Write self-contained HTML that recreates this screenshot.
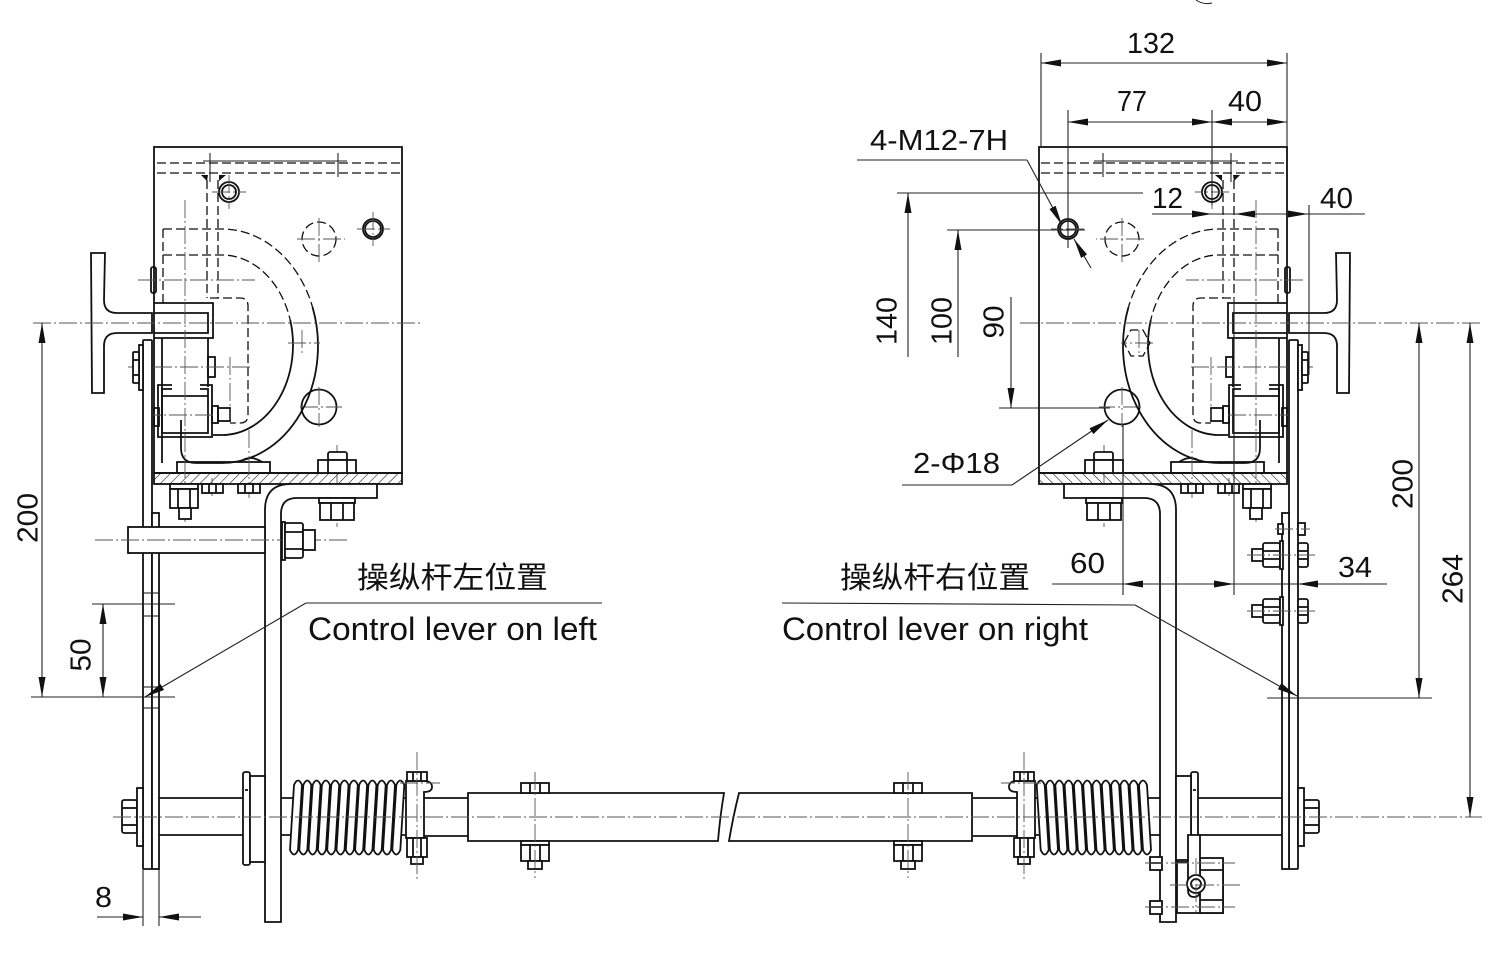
<!DOCTYPE html>
<html><head><meta charset="utf-8"><style>
html,body{margin:0;padding:0;background:#fff;}
svg{display:block;}
text{font-family:"Liberation Sans","Noto Sans CJK SC",sans-serif;fill:#111;}
.o{fill:none;stroke:#111;stroke-width:1.8;}
.w{fill:#fff;stroke:#111;stroke-width:1.8;}
.t{fill:none;stroke:#222;stroke-width:1.1;}
.c{fill:none;stroke:#555;stroke-width:0.9;stroke-dasharray:18 3 2 3;}
.h{fill:none;stroke:#111;stroke-width:1.3;stroke-dasharray:9 4;}
.d{fill:none;stroke:#222;stroke-width:1.1;}
</style></head><body>
<svg width="1500" height="976" viewBox="0 0 1500 976" xmlns="http://www.w3.org/2000/svg">
<defs>
<pattern id="hp" width="7" height="7" patternUnits="userSpaceOnUse" patternTransform="rotate(45)"><line x1="0" y1="0" x2="0" y2="7" stroke="#111" stroke-width="1.1"/></pattern>
<marker id="ar" viewBox="0 -4 20 8" refX="20" refY="0" markerWidth="20" markerHeight="8" markerUnits="userSpaceOnUse" orient="auto-start-reverse"><path d="M0,-3.5 L20,0 L0,3.5 Z" fill="#111"/></marker>
<g id="L">
 <!-- box -->
 <rect class="o" x="154" y="147" width="248" height="326"/>
 <rect x="154" y="473" width="248" height="11" fill="url(#hp)" stroke="#111" stroke-width="1.8"/>
 <line class="h" x1="157" y1="163" x2="400" y2="163"/>
 <line class="h" x1="157" y1="173" x2="400" y2="173"/>
 <line class="t" x1="203" y1="161" x2="347" y2="161"/>
 <line class="t" x1="210" y1="153" x2="210" y2="182"/>
 <line class="t" x1="338" y1="153" x2="338" y2="177"/>
 <path d="M201,175 L208,175 L207,181 Z M219,175 L226,175 L219,181 Z" fill="#111"/>
 <line class="h" x1="207" y1="180" x2="207" y2="298"/>
 <line class="h" x1="218" y1="180" x2="218" y2="298"/>
 <!-- holes -->
 <circle class="o" cx="229" cy="192" r="10"/><circle class="o" cx="229" cy="192" r="7" stroke-width="1.2"/>
 <line class="c" x1="212" y1="192" x2="246" y2="192"/><line class="c" x1="229" y1="175" x2="229" y2="209"/>
 <circle class="o" cx="373" cy="229" r="10"/><circle class="o" cx="373" cy="229" r="8" stroke-width="1.2"/>
 <line class="c" x1="357" y1="229" x2="390" y2="229"/><line class="c" x1="373" y1="212" x2="373" y2="246"/>
 <circle class="h" cx="319" cy="239" r="17"/>
 <line class="c" x1="297" y1="239" x2="345" y2="239"/><line class="c" x1="319" y1="218" x2="319" y2="262"/>
 <circle class="o" cx="319" cy="407" r="17.5"/>
 <line class="c" x1="300" y1="407" x2="342" y2="407"/><line class="c" x1="319" y1="387" x2="319" y2="427"/>
 <!-- hook -->
 <path class="h" d="M163,229 H222 A96,117 0 0 1 312.5,307"/>
 <path class="o" d="M312.5,307 A96,117 0 0 1 222,463 H196 Q181,463 181,448 V420"/>
 <path class="h" d="M163,255 H222 A71,90 0 0 1 290.2,320"/>
 <path class="o" d="M290.2,320 A71,90 0 0 1 222,435 H213"/>
 <line class="h" x1="163" y1="229" x2="163" y2="303"/>
 <path class="h" d="M210,298 H240 Q248,298 248,306 V415 Q248,423 240,423 H230"/>
 <!-- handle -->
 <path class="w" d="M91,253 H105 L104,300 Q104,313 117,313 H152 V333 H117 Q104,333 104,346 L104,393 H92 Z"/>
 <path class="o" d="M154,303 H213 V338 H154"/>
 <path class="o" d="M154,313 H208 V333 H154"/>
 <rect class="o" x="151" y="267" width="5" height="26" rx="2"/>
 <!-- block & channel -->
 <line class="o" x1="162" y1="338" x2="162" y2="463"/>
 <line class="o" x1="208" y1="338" x2="208" y2="387"/>
 <rect class="o" x="208" y="357" width="7" height="20"/>
 <path class="o" d="M172,385 H158 V437 H212 V385 H200"/>
 <path class="o" d="M172,389 H162 V433 H208 V389 H200" stroke-width="1.2"/>
 <line class="o" x1="162" y1="396" x2="208" y2="396" stroke-width="1.2"/>
 <rect class="o" x="154" y="408" width="5" height="18"/>
 <rect class="o" x="212" y="406" width="6" height="17"/>
 <rect class="o" x="218" y="408" width="12" height="13"/>
 <rect class="o" x="177" y="462" width="93" height="11"/>
 <path class="o" d="M240,462 Q250,454 262,462" stroke-width="1.2"/>
 <!-- centerlines inside -->
 <line class="c" x1="185" y1="200" x2="185" y2="522"/>
 <line class="c" x1="337" y1="445" x2="337" y2="527"/>
 <line class="c" x1="230" y1="357" x2="230" y2="420"/>
 <line class="c" x1="212" y1="478" x2="212" y2="498"/>
 <line class="c" x1="249" y1="430" x2="249" y2="498"/>
 <line class="c" x1="138" y1="280" x2="255" y2="280"/>
 <line class="c" x1="288" y1="343" x2="320" y2="343"/>
 <line class="c" x1="302" y1="330" x2="302" y2="356"/>
 <line class="c" x1="128" y1="367" x2="250" y2="367"/>
 <line class="c" x1="143" y1="415" x2="213" y2="415"/>
 <!-- nuts at plate -->
 <rect class="w" x="328" y="452" width="19" height="8" rx="2"/>
 <rect class="w" x="318" y="460" width="38" height="13"/>
 <line class="o" x1="328" y1="460" x2="328" y2="473"/><line class="o" x1="347" y1="460" x2="347" y2="473"/>
 <rect class="w" x="170" y="484" width="28" height="5"/>
 <rect class="w" x="170" y="489" width="28" height="19"/>
 <line class="o" x1="178" y1="489" x2="178" y2="508"/><line class="o" x1="190" y1="489" x2="190" y2="508"/>
 <rect class="w" x="179" y="508" width="12" height="11"/>
 <rect class="w" x="202" y="484" width="21" height="9"/>
 <line class="o" x1="209" y1="484" x2="209" y2="493"/><line class="o" x1="216" y1="484" x2="216" y2="493"/>
 <rect class="w" x="238" y="484" width="22" height="9"/>
 <line class="o" x1="245" y1="484" x2="245" y2="493"/><line class="o" x1="253" y1="484" x2="253" y2="493"/>
 <!-- plates -->
 <rect class="w" x="143" y="340" width="9" height="529" rx="1"/>
 <rect class="w" x="152" y="513" width="7" height="356"/>
 <rect class="w" x="139" y="345" width="4" height="45"/>
 <rect class="w" x="133" y="352" width="6" height="31" rx="1"/>
 <line class="o" x1="133" y1="360" x2="139" y2="360"/><line class="o" x1="133" y1="375" x2="139" y2="375"/>
 <!-- L bracket -->
 <path class="w" d="M265,922 V510 Q265,484 291,484 H377 V498 H297 Q281,498 281,514 V922 Z"/>
 <rect class="w" x="319" y="498" width="36" height="5"/>
 <rect class="w" x="320" y="503" width="34" height="17"/>
 <line class="o" x1="331" y1="503" x2="331" y2="520"/><line class="o" x1="343" y1="503" x2="343" y2="520"/>
 <!-- shaft -->
 <rect class="w" x="122" y="800" width="15" height="33" rx="2"/>
 <line class="o" x1="122" y1="808" x2="137" y2="808"/><line class="o" x1="122" y1="825" x2="137" y2="825"/>
 <rect class="w" x="137" y="788" width="6" height="58"/>
 <line class="o" x1="159" y1="798" x2="243" y2="798"/><line class="o" x1="159" y1="835" x2="243" y2="835"/>
 <rect class="w" x="243" y="772" width="7" height="93" rx="2"/>
 <rect class="w" x="250" y="776" width="15" height="86"/>
 <line class="o" x1="245" y1="790" x2="248" y2="790" stroke-width="1"/>
 <line class="o" x1="281" y1="798" x2="406" y2="798"/><line class="o" x1="281" y1="835" x2="406" y2="835"/>
 <!-- spring -->
 <g class="w">
 <path d="M294,785 Q298,776 302,785 L298,850 Q294,859 290,850 Z"/>
 <path d="M303.3,785 Q307.3,776 311.3,785 L307.3,850 Q303.3,859 299.3,850 Z"/>
 <path d="M312.6,785 Q316.6,776 320.6,785 L316.6,850 Q312.6,859 308.6,850 Z"/>
 <path d="M321.9,785 Q325.9,776 329.9,785 L325.9,850 Q321.9,859 317.9,850 Z"/>
 <path d="M331.2,785 Q335.2,776 339.2,785 L335.2,850 Q331.2,859 327.2,850 Z"/>
 <path d="M340.5,785 Q344.5,776 348.5,785 L344.5,850 Q340.5,859 336.5,850 Z"/>
 <path d="M349.8,785 Q353.8,776 357.8,785 L353.8,850 Q349.8,859 345.8,850 Z"/>
 <path d="M359.1,785 Q363.1,776 367.1,785 L363.1,850 Q359.1,859 355.1,850 Z"/>
 <path d="M368.4,785 Q372.4,776 376.4,785 L372.4,850 Q368.4,859 364.4,850 Z"/>
 <path d="M377.7,785 Q381.7,776 385.7,785 L381.7,850 Q377.7,859 373.7,850 Z"/>
 <path d="M387,785 Q391,776 395,785 L391,850 Q387,859 383,850 Z"/>
 <path d="M396.3,785 Q400.3,776 404.3,785 L400.3,850 Q396.3,859 392.3,850 Z"/>
 </g>
 <!-- collar -->
 <path class="w" d="M406,781 H424 Q432,781 432,787 Q432,792 424,792 V838 H406 Z"/>
 <rect class="w" x="407" y="772" width="20" height="9"/>
 <line class="o" x1="413" y1="772" x2="413" y2="781"/><line class="o" x1="421" y1="772" x2="421" y2="781"/>
 <rect class="w" x="407" y="838" width="20" height="19"/>
 <line class="o" x1="413" y1="838" x2="413" y2="857"/><line class="o" x1="421" y1="838" x2="421" y2="857"/>
 <rect class="w" x="411" y="857" width="12" height="7"/>
 <line class="c" x1="417" y1="752" x2="417" y2="882"/>
 <line class="c" x1="400" y1="783" x2="440" y2="783"/>
 <line class="o" x1="424" y1="798" x2="468" y2="798"/><line class="o" x1="424" y1="836" x2="468" y2="836"/>
</g>
</defs>

<rect width="1500" height="976" fill="#fff"/>

<!-- left assembly and mirrored right assembly -->
<use href="#L"/>
<use href="#L" transform="matrix(-1 0 0 1 1441 0)"/>

<!-- left-only: bar and side bolt -->
<rect class="w" x="128" y="527" width="137" height="26"/>
<line class="c" x1="95" y1="540" x2="348" y2="540"/>
<rect class="w" x="282" y="522" width="3" height="38"/>
<rect class="w" x="285" y="523" width="18" height="35" rx="2"/>
<line class="o" x1="285" y1="532" x2="303" y2="532"/><line class="o" x1="285" y1="549" x2="303" y2="549"/>
<rect class="w" x="303" y="530" width="12" height="20"/>
<g class="t">
<line x1="143" y1="593" x2="159" y2="593"/><line x1="143" y1="616" x2="159" y2="616"/>
<line x1="143" y1="687" x2="159" y2="687"/><line x1="143" y1="708" x2="159" y2="708"/>
</g>

<!-- right-only: plate bolts -->
<rect class="w" x="1252" y="549" width="11" height="12"/>
<rect class="w" x="1263" y="543" width="17" height="24" rx="2"/>
<line class="o" x1="1263" y1="551" x2="1280" y2="551"/><line class="o" x1="1263" y1="559" x2="1280" y2="559"/>
<rect class="w" x="1280" y="541" width="3" height="28"/>
<rect class="w" x="1298" y="543" width="10" height="24" rx="2"/>
<line class="o" x1="1298" y1="551" x2="1308" y2="551"/><line class="o" x1="1298" y1="559" x2="1308" y2="559"/>
<rect class="w" x="1252" y="605" width="11" height="12"/>
<rect class="w" x="1263" y="599" width="17" height="24" rx="2"/>
<line class="o" x1="1263" y1="607" x2="1280" y2="607"/><line class="o" x1="1263" y1="615" x2="1280" y2="615"/>
<rect class="w" x="1280" y="597" width="3" height="28"/>
<rect class="w" x="1298" y="599" width="10" height="24" rx="2"/>
<line class="o" x1="1298" y1="607" x2="1308" y2="607"/><line class="o" x1="1298" y1="615" x2="1308" y2="615"/>
<rect class="w" x="1278" y="524" width="5" height="10"/>
<rect class="w" x="1298" y="523" width="7" height="12"/>
<line class="c" x1="1275" y1="529" x2="1310" y2="529"/>
<line class="c" x1="1247" y1="555" x2="1315" y2="555"/>
<line class="c" x1="1247" y1="611" x2="1315" y2="611"/>
<!-- right-only: hidden hex -->
<path class="h" d="M1124,343 L1131,330 H1143 L1150,343 L1143,356 H1131 Z"/>
<!-- right-only: roller bracket -->
<rect class="o" x="1177" y="860" width="46" height="53"/>
<rect class="w" x="1200" y="858" width="23" height="55"/>
<line class="o" x1="1200" y1="870" x2="1223" y2="870" stroke-width="1.2"/>
<line class="o" x1="1200" y1="900" x2="1223" y2="900" stroke-width="1.2"/>
<path class="w" d="M1188,835 H1200 V890 Q1200,897 1194,897 Q1188,897 1188,890 Z"/>
<circle class="w" cx="1196" cy="884" r="9"/>
<circle class="o" cx="1196" cy="884" r="5" stroke-width="1.2"/>
<rect class="w" x="1150" y="857" width="12" height="13"/>
<line class="o" x1="1150" y1="863" x2="1162" y2="863" stroke-width="1"/>
<rect class="w" x="1150" y="901" width="12" height="13"/>
<line class="o" x1="1150" y1="907" x2="1162" y2="907" stroke-width="1"/>
<line class="c" x1="1145" y1="863" x2="1235" y2="863"/>
<line class="c" x1="1170" y1="885" x2="1240" y2="885"/>
<line class="c" x1="1145" y1="907" x2="1235" y2="907"/>
<line class="c" x1="1196" y1="858" x2="1196" y2="912"/>

<!-- tube with break -->
<path class="w" d="M468,793 H724 Q720,817 718,841 H468 Z"/>
<path class="w" d="M739,793 H972 V841 H729 Q733,817 739,793 Z"/>
<!-- tube bolts -->
<g>
<rect class="w" x="521" y="783" width="28" height="10"/>
<line class="o" x1="530" y1="783" x2="530" y2="793"/><line class="o" x1="540" y1="783" x2="540" y2="793"/>
<rect class="w" x="521" y="841" width="28" height="4"/>
<rect class="w" x="521" y="845" width="28" height="16"/>
<line class="o" x1="530" y1="845" x2="530" y2="861"/><line class="o" x1="540" y1="845" x2="540" y2="861"/>
<rect class="w" x="528" y="861" width="14" height="8"/>
<line class="c" x1="535" y1="772" x2="535" y2="878"/>
<rect class="w" x="894" y="783" width="28" height="10"/>
<line class="o" x1="903" y1="783" x2="903" y2="793"/><line class="o" x1="913" y1="783" x2="913" y2="793"/>
<rect class="w" x="894" y="841" width="28" height="4"/>
<rect class="w" x="894" y="845" width="28" height="16"/>
<line class="o" x1="903" y1="845" x2="903" y2="861"/><line class="o" x1="913" y1="845" x2="913" y2="861"/>
<rect class="w" x="901" y="861" width="14" height="8"/>
<line class="c" x1="908" y1="772" x2="908" y2="878"/>
</g>

<!-- main centerlines -->
<line class="c" x1="33" y1="323" x2="420" y2="323"/>
<line class="c" x1="1020" y1="323" x2="1482" y2="323"/>
<line class="c" x1="113" y1="817" x2="1482" y2="817"/>

<!-- LEFT dimensions -->
<line class="d" x1="42" y1="323" x2="42" y2="697" marker-start="url(#ar)" marker-end="url(#ar)"/>
<line class="t" x1="31" y1="697" x2="175" y2="697"/>
<line class="d" x1="103" y1="604" x2="103" y2="697" marker-start="url(#ar)" marker-end="url(#ar)"/>
<line class="t" x1="92" y1="604" x2="175" y2="604"/>
<text transform="translate(27,518) rotate(-90)" text-anchor="middle" dy="0.36em" font-size="29" textLength="50" lengthAdjust="spacingAndGlyphs">200</text>
<text transform="translate(80,655) rotate(-90)" text-anchor="middle" dy="0.36em" font-size="29" textLength="33" lengthAdjust="spacingAndGlyphs">50</text>
<line class="t" x1="143" y1="869" x2="143" y2="926"/>
<line class="t" x1="159" y1="869" x2="159" y2="926"/>
<line class="d" x1="97" y1="917" x2="143" y2="917" marker-end="url(#ar)"/>
<line class="d" x1="201" y1="917" x2="159" y2="917" marker-end="url(#ar)"/>
<text x="95" y="907" font-size="29" textLength="17" lengthAdjust="spacingAndGlyphs">8</text>
<!-- left leader -->
<polyline class="d" points="602,603 306,603"/>
<line class="d" x1="306" y1="603" x2="145" y2="697" marker-end="url(#ar)"/>
<text x="357" y="588" font-size="30" textLength="191" lengthAdjust="spacingAndGlyphs">操纵杆左位置</text>
<text x="308" y="640" font-size="32" textLength="289" lengthAdjust="spacingAndGlyphs">Control lever on left</text>

<!-- RIGHT dimensions -->
<line class="t" x1="1041" y1="53" x2="1041" y2="147"/>
<line class="t" x1="1287" y1="53" x2="1287" y2="147"/>
<line class="d" x1="1041" y1="63" x2="1287" y2="63" marker-start="url(#ar)" marker-end="url(#ar)"/>
<text x="1127" y="53" font-size="29" textLength="48" lengthAdjust="spacingAndGlyphs">132</text>
<line class="t" x1="1068" y1="110" x2="1068" y2="248"/>
<line class="t" x1="1212" y1="110" x2="1212" y2="205"/>
<line class="d" x1="1068" y1="122" x2="1212" y2="122" marker-start="url(#ar)" marker-end="url(#ar)"/>
<line class="d" x1="1212" y1="122" x2="1287" y2="122" marker-start="url(#ar)" marker-end="url(#ar)"/>
<text x="1117" y="111" font-size="29" textLength="30" lengthAdjust="spacingAndGlyphs">77</text>
<text x="1228" y="111" font-size="29" textLength="34" lengthAdjust="spacingAndGlyphs">40</text>
<!-- 4-M12-7H -->
<line class="d" x1="857" y1="160" x2="1027" y2="160"/>
<line class="d" x1="1027" y1="160" x2="1062" y2="225" marker-end="url(#ar)"/>
<line class="d" x1="1091" y1="268" x2="1074" y2="239" marker-end="url(#ar)"/>
<text x="870" y="150" font-size="29" textLength="138" lengthAdjust="spacingAndGlyphs">4-M12-7H</text>
<!-- 12 / 40 -->
<line class="d" x1="1152" y1="214" x2="1365" y2="214"/>
<line class="d" x1="1190" y1="214" x2="1212" y2="214" marker-end="url(#ar)"/>
<line class="d" x1="1258" y1="214" x2="1235" y2="214" marker-end="url(#ar)"/>
<line class="d" x1="1287" y1="214" x2="1308" y2="214" marker-end="url(#ar)"/>
<line class="t" x1="1309" y1="205" x2="1309" y2="375"/>
<line class="t" x1="1234" y1="298" x2="1234" y2="595"/>
<text x="1152" y="208" font-size="29" textLength="31" lengthAdjust="spacingAndGlyphs">12</text>
<text x="1320" y="208" font-size="29" textLength="33" lengthAdjust="spacingAndGlyphs">40</text>
<!-- 140 / 100 / 90 -->
<line class="t" x1="897" y1="193" x2="1143" y2="193"/>
<line class="d" x1="908" y1="357" x2="908" y2="193" marker-end="url(#ar)"/>
<line class="t" x1="947" y1="230" x2="1085" y2="230"/>
<line class="d" x1="958" y1="357" x2="958" y2="230" marker-end="url(#ar)"/>
<line class="t" x1="999" y1="408" x2="1110" y2="408"/>
<line class="d" x1="1011" y1="297" x2="1011" y2="408" marker-end="url(#ar)"/>
<text transform="translate(886,321) rotate(-90)" text-anchor="middle" dy="0.36em" font-size="29" textLength="48" lengthAdjust="spacingAndGlyphs">140</text>
<text transform="translate(941,321) rotate(-90)" text-anchor="middle" dy="0.36em" font-size="29" textLength="48" lengthAdjust="spacingAndGlyphs">100</text>
<text transform="translate(993,322) rotate(-90)" text-anchor="middle" dy="0.36em" font-size="29" textLength="33" lengthAdjust="spacingAndGlyphs">90</text>
<!-- 2-Φ18 -->
<polyline class="d" points="902,485 1012,485"/>
<line class="d" x1="1012" y1="485" x2="1108" y2="420" marker-end="url(#ar)"/>
<text x="913" y="473" font-size="29" textLength="87" lengthAdjust="spacingAndGlyphs">2-Φ18</text>
<!-- 60 / 34 -->
<line class="t" x1="1123" y1="425" x2="1123" y2="595"/>
<line class="d" x1="1052" y1="584" x2="1387" y2="584"/>
<line class="d" x1="1146" y1="584" x2="1123" y2="584" marker-end="url(#ar)"/>
<line class="d" x1="1211" y1="584" x2="1234" y2="584" marker-end="url(#ar)"/>
<line class="d" x1="1322" y1="584" x2="1298" y2="584" marker-end="url(#ar)"/>
<text x="1070" y="573" font-size="29" textLength="35" lengthAdjust="spacingAndGlyphs">60</text>
<text x="1338" y="577" font-size="29" textLength="34" lengthAdjust="spacingAndGlyphs">34</text>
<!-- 200 / 264 -->
<line class="t" x1="1267" y1="698" x2="1432" y2="698"/>
<line class="d" x1="1419" y1="323" x2="1419" y2="698" marker-start="url(#ar)" marker-end="url(#ar)"/>
<line class="d" x1="1470" y1="323" x2="1470" y2="817" marker-start="url(#ar)" marker-end="url(#ar)"/>
<text transform="translate(1402,484) rotate(-90)" text-anchor="middle" dy="0.36em" font-size="29" textLength="50" lengthAdjust="spacingAndGlyphs">200</text>
<text transform="translate(1452,579) rotate(-90)" text-anchor="middle" dy="0.36em" font-size="29" textLength="50" lengthAdjust="spacingAndGlyphs">264</text>
<!-- right leader -->
<polyline class="d" points="782,603 1135,605"/>
<line class="d" x1="1135" y1="605" x2="1297" y2="696" marker-end="url(#ar)"/>
<text x="840" y="588" font-size="30" textLength="190" lengthAdjust="spacingAndGlyphs">操纵杆右位置</text>
<text x="782" y="640" font-size="32" textLength="306" lengthAdjust="spacingAndGlyphs">Control lever on right</text>
<path d="M1196,0 Q1203,5 1212,3" fill="none" stroke="#222" stroke-width="1"/>
</svg>
</body></html>
